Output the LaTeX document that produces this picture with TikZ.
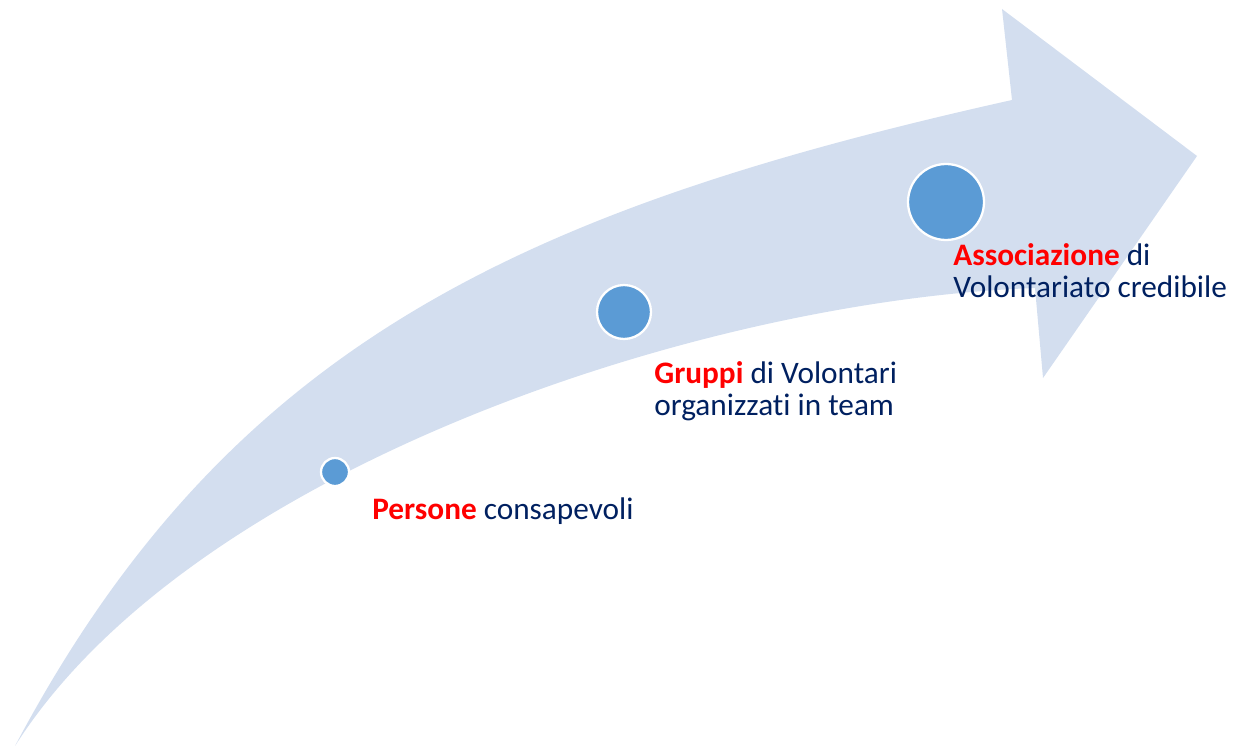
\documentclass[tikz,border=0pt]{standalone}
\usepackage{fontspec}
\setmainfont{Carlito}[Ligatures=NoCommon]
\usepackage{xcolor}
\usepackage{tikz}
\usetikzlibrary{positioning}
\definecolor{arrowblue}{RGB}{211,222,239}
\definecolor{dotblue}{RGB}{91,155,213}
\definecolor{navy}{RGB}{0,32,96}
\definecolor{hired}{RGB}{255,0,0}

\begin{document}
\begin{tikzpicture}[x=0.02cm,y=-0.02cm,
  dot/.style={circle,fill=dotblue,draw=white,line width=1.3pt,inner sep=0pt},
  caption/.style={anchor=base west,align=left,inner sep=0pt,text=navy,font=\fontsize{17.8}{18.14}\selectfont}]
\useasboundingbox (0,0) rectangle (1233,746);
\fill[arrowblue] (15,746) .. controls (227,346) and (519,210) .. (1012,100) -- (1002,9) -- (1197,156) -- (1043,378) -- (1035,288) .. controls (700,300) and (190,470) .. (15,746) -- cycle;
\node[dot,minimum size=0.56cm] (small) at (335,472) {};
\node[dot,minimum size=1.08cm] (medium) at (624,312) {};
\node[dot,minimum size=1.52cm] (big) at (946,202) {};
% base of a two-line caption is its last line
\node[caption] (persone) at (372,519) {\textcolor{hired}{\textbf{Persone}} consapevoli};
\node[caption] (gruppi) at (654,415) {\textcolor{hired}{\textbf{Gruppi}} di Volontari\\organizzati in team};
\node[caption] (assoc) at (953,297) {\textcolor{hired}{\textbf{Associazione}} di\\Volontariato credibile};
\end{tikzpicture}
\end{document}
